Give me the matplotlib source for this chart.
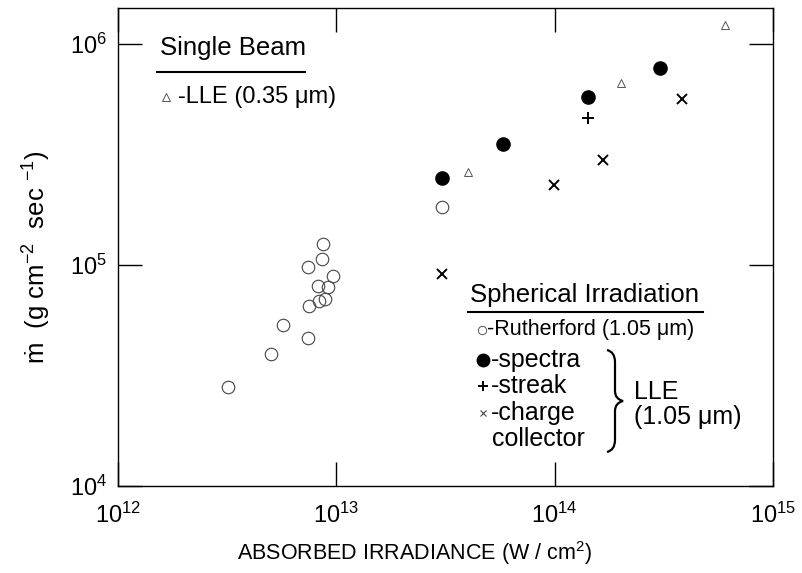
import matplotlib
matplotlib.use("Agg")
import matplotlib.pyplot as plt
from matplotlib.path import Path
from matplotlib.patches import PathPatch
import matplotlib.lines as mlines

plt.rcParams['font.family'] = ['Liberation Sans', 'DejaVu Sans']
plt.rcParams['mathtext.fontset'] = 'custom'
plt.rcParams['mathtext.rm'] = 'Liberation Sans'
plt.rcParams['mathtext.it'] = 'Liberation Sans:italic'

# Rutherford (1.05 um), open circles
ruth_x = [8.72e12, 8.63e12, 7.44e12, 9.69e12, 8.27e12, 9.13e12, 8.87e12, 8.33e12,
          7.52e12, 5.68e12, 7.39e12, 5.02e12, 3.20e12, 3.05e13]
ruth_y = [1.24e5, 1.06e5, 9.83e4, 8.92e4, 8.06e4, 7.98e4, 7.02e4, 6.87e4,
          6.54e4, 5.35e4, 4.66e4, 3.96e4, 2.80e4, 1.83e5]
# LLE spectra, filled circles
spec_x = [3.05e13, 5.8e13, 1.42e14, 3.04e14]
spec_y = [2.48e5, 3.53e5, 5.76e5, 7.79e5]
# LLE streak
streak_x = [1.42e14]
streak_y = [4.63e5]
# LLE charge collector
cc_x = [3.05e13, 9.9e13, 1.67e14, 3.83e14]
cc_y = [9.1e4, 2.30e5, 2.99e5, 5.64e5]
# Single beam LLE (0.35 um), triangles
sb_x = [4.0e13, 2.01e14, 6.03e14]
sb_y = [2.64e5, 6.66e5, 1.22e6]

W, H = 803, 573
fig = plt.figure(figsize=(W / 100, H / 100), dpi=100)
ax = fig.add_axes([118 / W, 1 - 486 / H, 655 / W, 478 / H])
ax.set_xscale('log')
ax.set_yscale('log')
ax.set_xlim(1e12, 1e15)
ax.set_ylim(1e4, 10 ** 6.163)

ax.plot(ruth_x, ruth_y, 'o', ms=9, mfc='none', mec='#444444', mew=0.8, ls='none')
ax.plot(spec_x, spec_y, 'o', ms=9.5, color='black', ls='none')
ax.plot(streak_x, streak_y, '+', ms=9, mew=1.4, color='black', ls='none')
ax.plot(cc_x, cc_y, 'x', ms=7.5, mew=1.4, color='black', ls='none')
ax.plot(sb_x, sb_y, '^', ms=6, mfc='none', mec='#555555', mew=0.7, ls='none')

ax.minorticks_off()
ax.tick_params(which='major', direction='in', length=17, width=1,
               top=True, right=True, labelsize=17, pad=8)
ax.tick_params(axis='x', pad=12)
for s in ax.spines.values():
    s.set_linewidth(1)

fig.text(414 / W, 1 - 553 / H, 'ABSORBED IRRADIANCE (W / cm$^2$)', fontsize=15.5,
         ha='center', va='center')
fig.text(37 / W, 1 - 257 / H, 'ṁ  (g cm$^{-2}$  sec $^{-1}$)', fontsize=18.5,
         ha='center', va='center', rotation=90)


def fx(px):
    return px / W


def fy(py):
    return 1 - py / H


# single beam legend
fig.text(fx(160), fy(48), 'Single Beam', fontsize=18.5, ha='left', va='center')
fig.add_artist(mlines.Line2D([fx(157), fx(305)], [fy(72), fy(72)], color='black', lw=1.5))
fig.add_artist(mlines.Line2D([fx(166)], [fy(97)], marker='^', ms=6, mfc='none',
                             mec='#555555', mew=0.7, ls='none'))
fig.text(fx(178), fy(97), '-LLE (0.35 μm)', fontsize=17, ha='left', va='center')

# spherical legend
fig.text(fx(470), fy(295), 'Spherical Irradiation', fontsize=18.5, ha='left', va='center')
fig.add_artist(mlines.Line2D([fx(468), fx(703)], [fy(312), fy(312)], color='black', lw=1.5))
fig.add_artist(mlines.Line2D([fx(482)], [fy(330)], marker='o', ms=6, mfc='none',
                             mec='#555555', mew=0.7, ls='none'))
fig.text(fx(487), fy(330), '-Rutherford (1.05 μm)', fontsize=15.5, ha='left', va='center')
fig.add_artist(mlines.Line2D([fx(483)], [fy(360)], marker='o', ms=9, color='black', ls='none'))
fig.text(fx(491), fy(360), '-spectra', fontsize=18, ha='left', va='center')
fig.add_artist(mlines.Line2D([fx(483)], [fy(386)], marker='+', ms=7, mew=1.4,
                             color='black', ls='none'))
fig.text(fx(491), fy(386), '-streak', fontsize=18, ha='left', va='center')
fig.add_artist(mlines.Line2D([fx(483)], [fy(413)], marker='x', ms=5, mew=0.8,
                             color='#444444', ls='none'))
fig.text(fx(491), fy(413), '-charge', fontsize=18, ha='left', va='center')
fig.text(fx(492), fy(439), 'collector', fontsize=18, ha='left', va='center')
fig.text(fx(634), fy(392), 'LLE', fontsize=18, ha='left', va='center')
fig.text(fx(634), fy(417), '(1.05 μm)', fontsize=18, ha='left', va='center')

# curly brace
bx0, bx1, bx2 = 607, 615, 623
by0, bym, by1 = 350, 401, 452
pts = [(bx0, by0), (bx1, by0 + 2), (bx1, by0 + 12),
       (bx1, bym - 10),
       (bx1, bym - 2), (bx2, bym),
       (bx1, bym + 2), (bx1, bym + 10),
       (bx1, by1 - 12),
       (bx1, by1 - 2), (bx0, by1)]
codes = [Path.MOVETO, Path.CURVE3, Path.CURVE3,
         Path.LINETO,
         Path.CURVE3, Path.CURVE3,
         Path.CURVE3, Path.CURVE3,
         Path.LINETO,
         Path.CURVE3, Path.CURVE3]
verts = [(fx(x), fy(y)) for x, y in pts]
fig.add_artist(PathPatch(Path(verts, codes), transform=fig.transFigure,
                         fill=False, lw=1.6, color='black'))

fig.savefig('out.png', dpi=100)
